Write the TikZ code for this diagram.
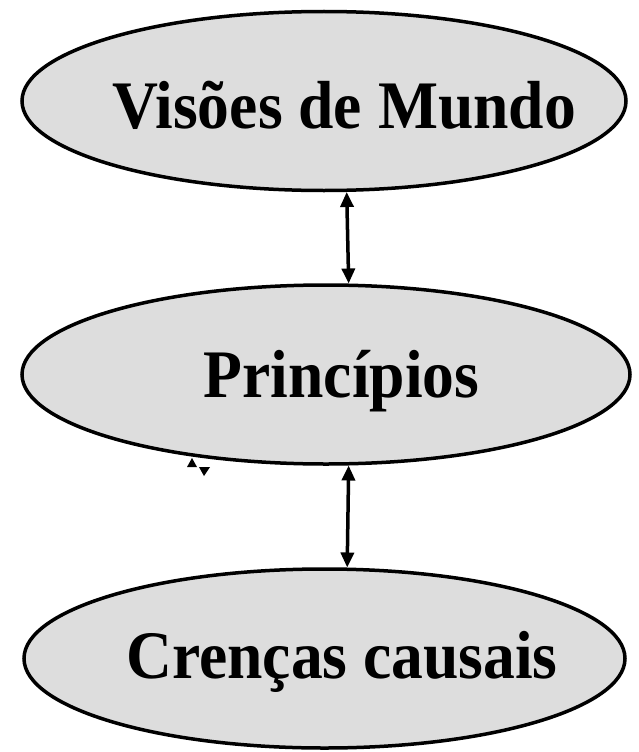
\documentclass[tikz,border=0pt]{standalone}
\usepackage{fontspec}
\setmainfont{Liberation Serif}
\newfontfamily\rotfont[FakeStretch=0.935]{Liberation Serif}
\usetikzlibrary{shapes.geometric,arrows.meta}

\definecolor{bolha}{HTML}{DDDDDD}

% texto deslocado dentro da elipse
\newcommand{\rotulo}[3]{\makebox[0pt]{\hspace*{#1}\raisebox{#2}{#3}}}

\tikzset{
  bolha/.style={ellipse, draw, line width=3.5pt, fill=bolha, inner sep=0pt,
    minimum width=604pt, minimum height=179pt, text height=45pt, text depth=0pt,
    font=\rotfont\fontsize{68}{70}\selectfont\bfseries},
  liga/.style={{Triangle[length=15pt,width=13pt]}-{Triangle[length=15pt,width=13pt]}, line width=3.5pt}
}

\begin{document}
\begin{tikzpicture}[x=1pt,y=-1pt]
  \useasboundingbox (0,0) rectangle (639,752);
  \node[bolha] (visoes) at (324,101) {\rotulo{40pt}{-4.5pt}{Visões de Mundo}};
  \node[bolha, minimum width=608pt] (principios) at (326,374.5) {\rotulo{31pt}{-0.5pt}{Princípios}};
  \node[bolha, minimum width=601pt] (crencas) at (324.5,658.5) {\rotulo{35pt}{2.5pt}{Crenças causais}};

  \draw [liga] (visoes.-76) to (principios.76);
  \draw [liga] (principios.-76) to (crencas.76);

  % pedaco solto de seta
  \fill (187,467) -- (197,467) -- (192,458) -- cycle;
  \fill (199,467) -- (210,467) -- (204,476) -- cycle;
\end{tikzpicture}
\end{document}
